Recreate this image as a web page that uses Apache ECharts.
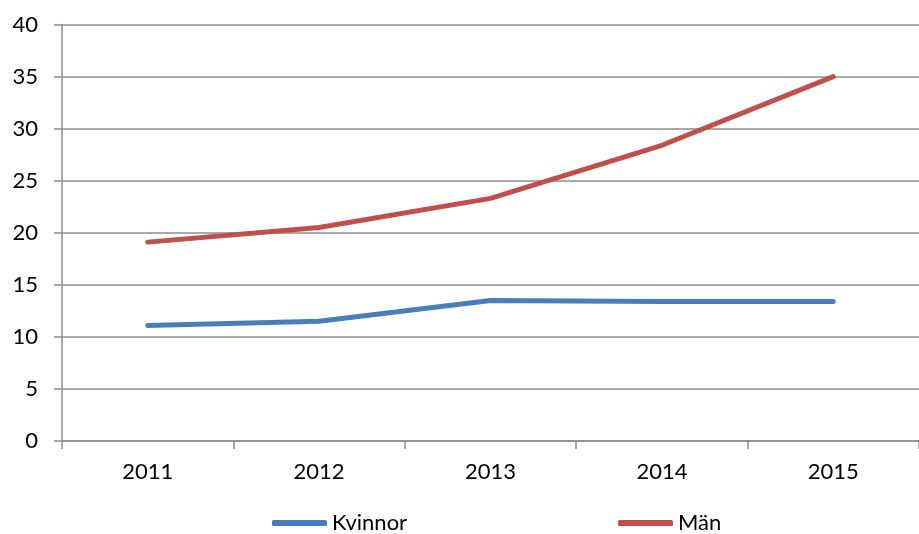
<!DOCTYPE html>
<html>
<head>
<meta charset="utf-8">
<script src="https://cdn.jsdelivr.net/npm/echarts@6/dist/echarts.min.js"></script>
<style>
  html, body { margin: 0; padding: 0; background: #fff; }
  #main { width: 919px; height: 534px; }
</style>
</head>
<body>
<div id="main"></div>
<script>
// data
var years = ['2011', '2012', '2013', '2014', '2015']
var kvinnor = [11.1, 11.5, 13.5, 13.4, 13.4]
var man = [19.1, 20.5, 23.3, 28.4, 35.0]

var chart = echarts.init(document.getElementById('main'))
var textStyle = { color: '#000', fontFamily: 'Lato', fontSize: 22 }
var gridLine = { color: '#8c8c8c', width: 1.5 }

var option = {
  animation: false,
  color: ['#4a7ebb', '#c0504d'],
  grid: { left: 62, width: 865, top: 24.5, bottom: 93, containLabel: false },
  legend: [{
    left: 272, top: 512, padding: 0, data: ['Kvinnor'], icon: 'roundRect',
    itemWidth: 55, itemHeight: 6, itemGap: 0, textStyle: textStyle
  }, {
    left: 618, top: 512, padding: 0, data: ['Män'], icon: 'roundRect',
    itemWidth: 55, itemHeight: 6, itemGap: 0, textStyle: textStyle
  }],
  xAxis: {
    type: 'category',
    data: years,
    boundaryGap: true,
    axisLine: { lineStyle: gridLine },
    axisTick: { show: true, length: 8, lineStyle: gridLine },
    axisLabel: Object.assign({ margin: 20 }, textStyle),
    splitLine: { show: false }
  },
  yAxis: {
    type: 'value',
    min: 0,
    max: 40,
    interval: 5,
    axisLine: { show: true, lineStyle: gridLine },
    axisTick: { show: true, length: 8, lineStyle: gridLine },
    axisLabel: Object.assign({ margin: 24 }, textStyle),
    splitLine: { show: true, lineStyle: gridLine }
  },
  series: [{
    name: 'Kvinnor',
    type: 'line',
    data: kvinnor,
    showSymbol: false,
    lineStyle: { width: 5, cap: 'round', join: 'round' }
  }, {
    name: 'Män',
    type: 'line',
    data: man,
    showSymbol: false,
    lineStyle: { width: 5, cap: 'round', join: 'round' }
  }]
}

chart.setOption(option)
</script>
</body>
</html>
